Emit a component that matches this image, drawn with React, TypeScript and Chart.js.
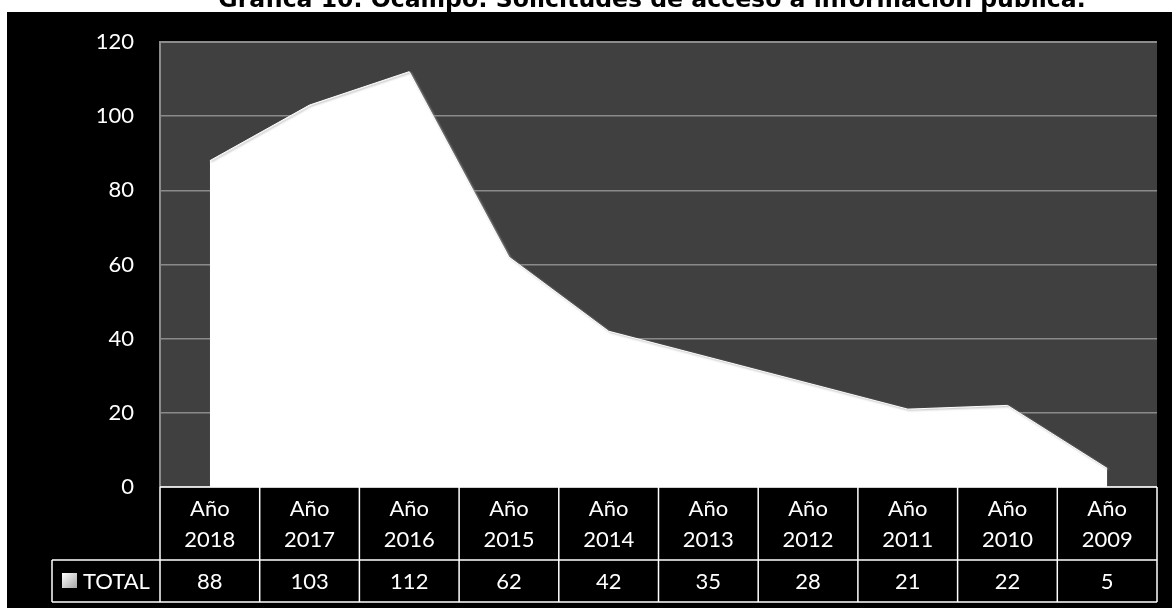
import React, { useEffect, useRef } from "react";
import { Chart, registerables } from "chart.js";

Chart.register(...registerables);

const TITLE = "Gráfica 10. Ocampo: Solicitudes de acceso a información pública.";
const YEARS = ["2018", "2017", "2016", "2015", "2014", "2013", "2012", "2011", "2010", "2009"];
const YEAR_PREFIX = "Año";
const TOTAL = [88, 103, 112, 62, 42, 35, 28, 21, 22, 5];
const SERIES_NAME = "TOTAL";
const Y_MIN = 0;
const Y_MAX = 120;
const Y_STEP = 20;

const FONT = "Lato, 'Open Sans', sans-serif";

const framePlugin = {
  id: "frame",
  beforeDraw(chart: any) {
    const { ctx, width, height, chartArea } = chart;
    ctx.save();
    ctx.fillStyle = "#ffffff";
    ctx.fillRect(0, 0, width, height);
    ctx.fillStyle = "#000000";
    ctx.fillRect(7, 12, width - 7, height - 12);
    // title (clipped at the top like the reference)
    ctx.fillStyle = "#000000";
    let size = 20;
    ctx.font = `bold ${size}px 'DejaVu Sans', sans-serif`;
    const w = ctx.measureText(TITLE).width;
    size = size * 868 / w;
    ctx.font = `bold ${size}px 'DejaVu Sans', sans-serif`;
    ctx.textAlign = "center";
    ctx.textBaseline = "alphabetic";
    ctx.fillText(TITLE, 652, 7);
    // plot background
    ctx.fillStyle = "#404040";
    ctx.fillRect(chartArea.left, chartArea.top, chartArea.right - chartArea.left, chartArea.bottom - chartArea.top);
    ctx.restore();
  },
  beforeDatasetsDraw(chart: any) {
    const { ctx, chartArea } = chart;
    ctx.save();
    ctx.strokeStyle = "#8c8c8c";
    ctx.lineWidth = 2;
    ctx.beginPath();
    ctx.moveTo(chartArea.left, chartArea.bottom);
    ctx.lineTo(chartArea.left, chartArea.top);
    ctx.lineTo(chartArea.right, chartArea.top);
    ctx.stroke();
    ctx.restore();
    ctx.save();
    ctx.shadowColor = "rgba(150,150,150,0.9)";
    ctx.shadowBlur = 2;
    ctx.shadowOffsetX = 1.5;
    ctx.shadowOffsetY = 1;
  },
  afterDatasetsDraw(chart: any) {
    chart.ctx.restore();
  },
  afterDraw(chart: any) {
    const { ctx, chartArea, scales } = chart;
    const x = scales.x;
    const n = YEARS.length;
    const colW = (chartArea.right - chartArea.left) / n;
    const top = chartArea.bottom;
    const midY = 560;
    const botY = 602;
    const legendLeft = 52;
    ctx.save();
    ctx.strokeStyle = "#ffffff";
    ctx.lineWidth = 1.5;
    ctx.beginPath();
    ctx.moveTo(chartArea.left, top);
    ctx.lineTo(chartArea.right, top);
    ctx.moveTo(legendLeft, midY);
    ctx.lineTo(chartArea.right, midY);
    ctx.moveTo(legendLeft, botY);
    ctx.lineTo(chartArea.right, botY);
    ctx.moveTo(legendLeft, midY);
    ctx.lineTo(legendLeft, botY);
    for (let i = 0; i <= n; i++) {
      const cx = i < n ? x.getPixelForValue(i) - colW / 2 : x.getPixelForValue(n - 1) + colW / 2;
      ctx.moveTo(cx, top);
      ctx.lineTo(cx, botY);
    }
    ctx.stroke();

    ctx.fillStyle = "#ffffff";
    ctx.font = `22px ${FONT}`;
    ctx.textAlign = "center";
    ctx.textBaseline = "middle";
    for (let i = 0; i < n; i++) {
      const cx = x.getPixelForValue(i);
      ctx.fillText(YEAR_PREFIX, cx, 509);
      ctx.fillText(YEARS[i], cx, 540);
      ctx.fillText(String(TOTAL[i]), cx, 582);
    }
    // legend key
    const g = ctx.createLinearGradient(62, 573, 77, 588);
    g.addColorStop(0, "#ffffff");
    g.addColorStop(1, "#a6a6a6");
    ctx.fillStyle = g;
    ctx.fillRect(62, 573, 15, 15);
    ctx.fillStyle = "#ffffff";
    ctx.textAlign = "left";
    ctx.fillText(SERIES_NAME, 83, 582);
    ctx.restore();
  },
};

export default function App() {
  const ref = useRef<HTMLCanvasElement | null>(null);
  useEffect(() => {
    if (!ref.current) return;
    const chart = new Chart(ref.current, {
      type: "line",
      data: {
        labels: YEARS.map((y) => `${YEAR_PREFIX} ${y}`),
        datasets: [
          {
            label: SERIES_NAME,
            data: TOTAL,
            fill: "origin",
            backgroundColor: "#ffffff",
            borderColor: "#ffffff",
            borderWidth: 1,
            pointRadius: 0,
            tension: 0,
          },
        ],
      },
      options: {
        responsive: false,
        animation: false,
        layout: { padding: { top: 42, right: 15, bottom: 121, left: 0 } },
        plugins: { legend: { display: false }, tooltip: { enabled: false }, title: { display: false } },
        scales: {
          x: {
            type: "category",
            display: false,
            offset: true,
          },
          y: {
            min: Y_MIN,
            max: Y_MAX,
            ticks: { stepSize: Y_STEP, color: "#ffffff", font: { family: FONT, size: 22 }, padding: 26 },
            grid: { color: "#8a8a8a", lineWidth: 1.5, drawTicks: false },
            border: { display: false },
            afterFit(scale: any) {
              scale.width = 160;
            },
          },
        },
      },
      plugins: [framePlugin],
    });
    return () => chart.destroy();
  }, []);
  return (
    <div style={{ position: "fixed", left: 0, top: 0, width: 1172, height: 608 }}>
      <canvas ref={ref} width={1172} height={608} style={{ display: "block" }} />
    </div>
  );
}
